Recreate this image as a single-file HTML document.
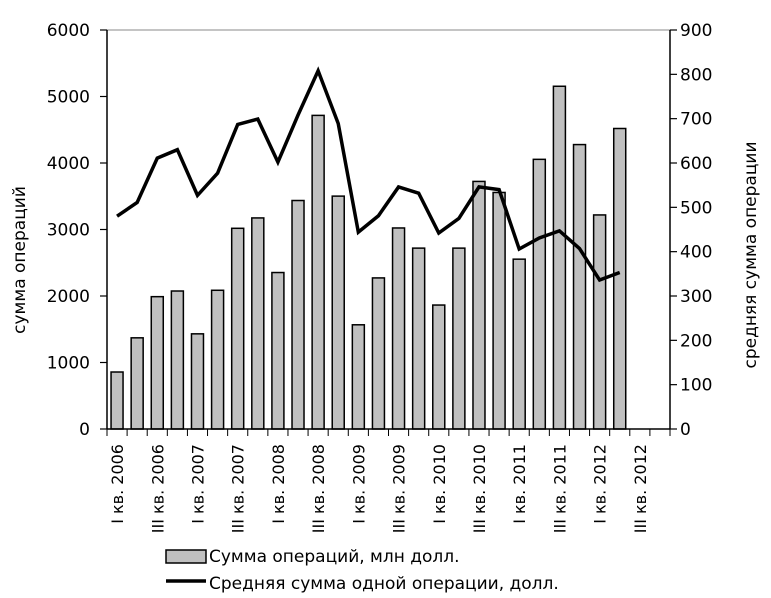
<!DOCTYPE html>
<html><head><meta charset="utf-8"><style>
html,body{margin:0;padding:0;background:#fff}
svg{display:block;font-family:"DejaVu Sans","Liberation Sans",sans-serif}
</style></head><body>
<svg id="chart" width="771" height="598" viewBox="0 0 771 598"></svg>
<script>
const categories=["I кв. 2006","II кв. 2006","III кв. 2006","IV кв. 2006","I кв. 2007","II кв. 2007","III кв. 2007","IV кв. 2007","I кв. 2008","II кв. 2008","III кв. 2008","IV кв. 2008","I кв. 2009","II кв. 2009","III кв. 2009","IV кв. 2009","I кв. 2010","II кв. 2010","III кв. 2010","IV кв. 2010","I кв. 2011","II кв. 2011","III кв. 2011","IV кв. 2011","I кв. 2012","II кв. 2012","III кв. 2012","IV кв. 2012"];
const sumValues=[857,1371,1990,2075,1431,2086,3018,3174,2353,3436,4716,3502,1567,2272,3023,2720,1864,2720,3723,3557,2554,4055,5154,4277,3219,4519];
const avgValues=[480,511,611,630,527,577,687,699,602,708,808,689,444,481,546,532,442,475,546,540,406,431,447,407,336,353];
const leftTicks=[0,1000,2000,3000,4000,5000,6000];
const rightTicks=[0,100,200,300,400,500,600,700,800,900];
const NS="http://www.w3.org/2000/svg";
const svgEl=document.getElementById('chart');
const X0=107,X1=670,Y0=429,Y1=30;
const bw=(X1-X0)/categories.length;
const xc=i=>X0+bw*(i+0.5);
const yL=v=>Y0-(v/6000)*(Y0-Y1);
const yR=v=>Y0-(v/900)*(Y0-Y1);
function mk(t,a,p){const e=document.createElementNS(NS,t);for(const k in a)e.setAttribute(k,a[k]);(p||svgEl).appendChild(e);return e;}
const topBorder=mk('line',{x1:X0,y1:Y1,x2:X1,y2:Y1,stroke:'#888','stroke-width':1});


sumValues.forEach((v,i)=>{
 const r=mk('rect',{x:xc(i)-6,y:yL(v),width:12,height:Y0-yL(v),fill:'#c0c0c0',stroke:'#000','stroke-width':1.5});
 
 
});
const pts=avgValues.map((v,i)=>xc(i)+','+yR(v)).join(' ');
const pl=mk('polyline',{points:pts,fill:'none',stroke:'#000','stroke-width':3.5,'stroke-linejoin':'miter'});


const al=mk('line',{x1:X0,y1:Y1,x2:X0,y2:Y0,stroke:'#000','stroke-width':1.5});


const ar=mk('line',{x1:X1,y1:Y1,x2:X1,y2:Y0,stroke:'#000','stroke-width':1.5});


const ax=mk('line',{x1:X0,y1:Y0,x2:X1,y2:Y0,stroke:'#000','stroke-width':1.5});


leftTicks.forEach(v=>{
 mk('line',{x1:X0-7,y1:yL(v),x2:X0,y2:yL(v),stroke:'#000','stroke-width':1.2});
 const t=mk('text',{x:90,y:yL(v)+6,'text-anchor':'end','font-size':17});
 t.textContent=v;
 
 
});
rightTicks.forEach(v=>{
 mk('line',{x1:X1,y1:yR(v),x2:X1+7,y2:yR(v),stroke:'#000','stroke-width':1.2});
 const t=mk('text',{x:680,y:yR(v)+6,'text-anchor':'start','font-size':17});
 t.textContent=v;
 
 
});
for(let i=0;i<=categories.length;i++){mk('line',{x1:X0+bw*i,y1:Y0,x2:X0+bw*i,y2:Y0+7,stroke:'#000','stroke-width':1});}
categories.forEach((c,i)=>{
 if(i%2)return;
 const x=xc(i)+6,y=444;
 const t=mk('text',{x:x,y:y,transform:'rotate(-90 '+x+' '+y+')','text-anchor':'end','font-size':16});
 t.textContent=c;
 
 
});
const lt=mk('text',{x:0,y:0,transform:'translate(25 260) rotate(-90)','text-anchor':'middle','font-size':17});
lt.textContent='сумма операций';


const rt=mk('text',{x:0,y:0,transform:'translate(756 255) rotate(-90)','text-anchor':'middle','font-size':17});
rt.textContent='средняя сумма операции';


const lb=mk('rect',{x:166,y:550,width:40,height:13,fill:'#c0c0c0',stroke:'#000','stroke-width':1.5});


const l1=mk('text',{x:209,y:562,'font-size':17});
l1.textContent='Сумма операций, млн долл.';


const ll=mk('line',{x1:166,y1:581,x2:206,y2:581,stroke:'#000','stroke-width':3.5});


const l2=mk('text',{x:209,y:589,'font-size':17});
l2.textContent='Средняя сумма одной операции, долл.';


</script>
</body></html>
